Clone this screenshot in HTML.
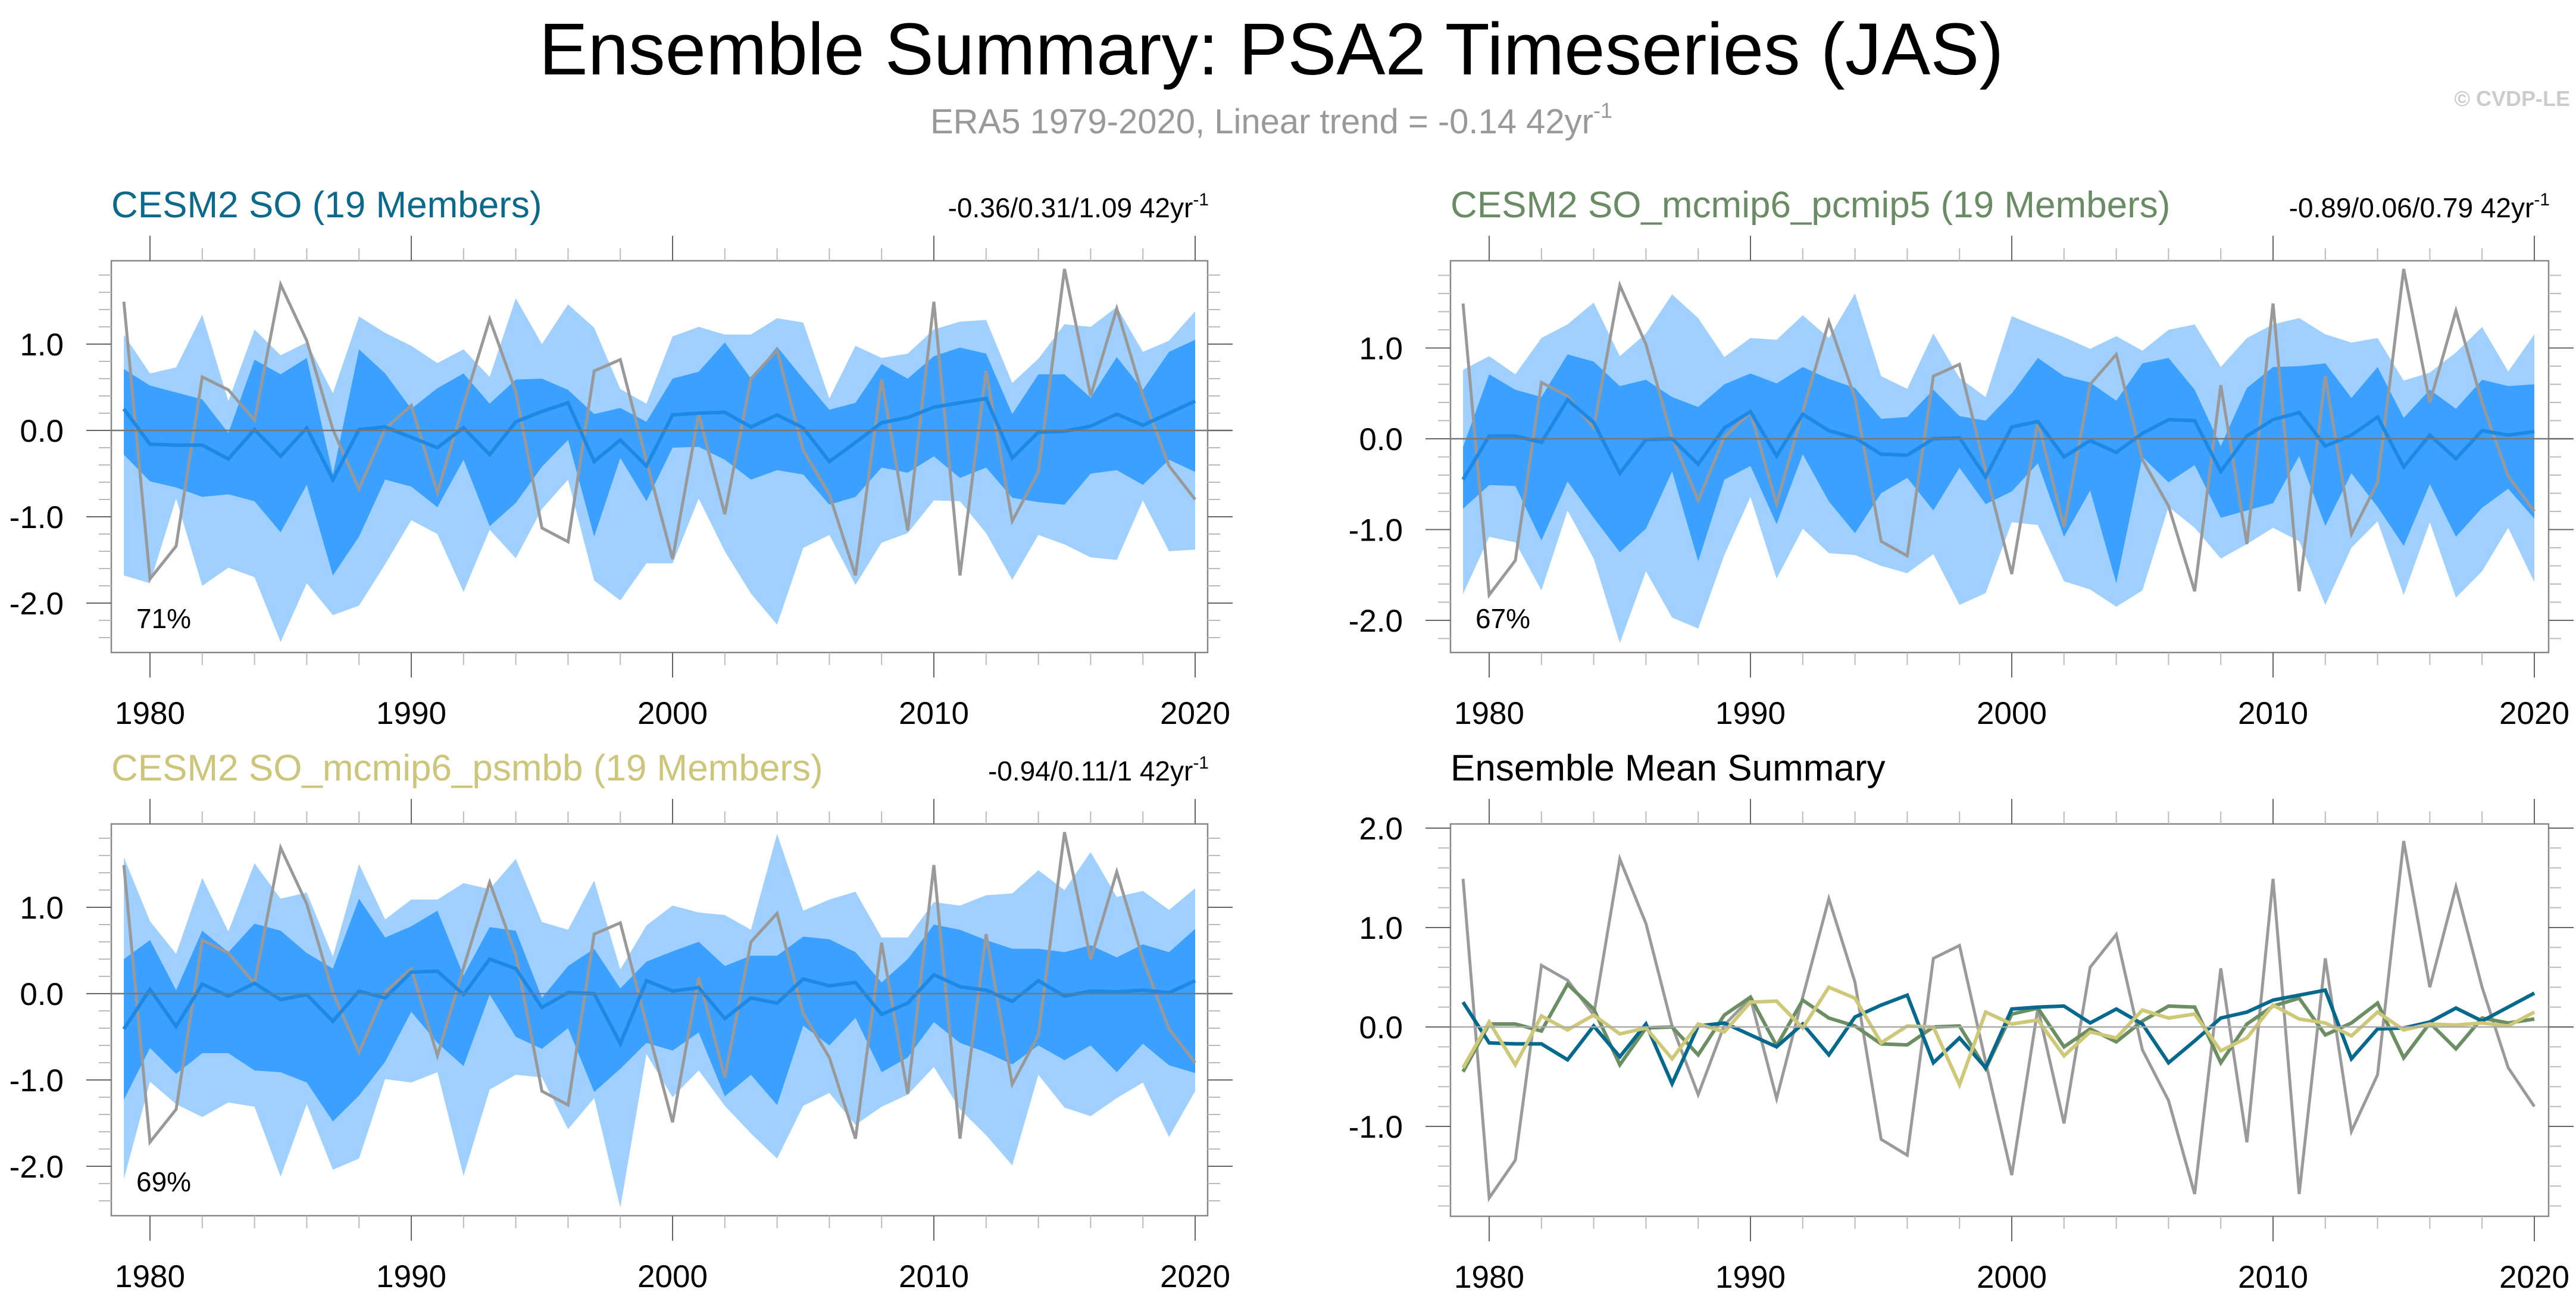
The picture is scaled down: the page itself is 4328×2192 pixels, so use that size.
<!DOCTYPE html>
<html><head><meta charset="utf-8">
<style>
html,body{margin:0;padding:0;background:#fff;}
svg{display:block;font-family:"Liberation Sans",Arial,sans-serif;}
</style></head>
<body>
<svg id="chart" width="4328" height="2192" viewBox="0 0 4328 2192" xmlns="http://www.w3.org/2000/svg">
<text x="2136" y="125" font-size="123" text-anchor="middle" fill="#000">Ensemble Summary: PSA2 Timeseries (JAS)</text>
<text x="2136" y="224" font-size="58" text-anchor="middle" fill="#999">ERA5 1979-2020, Linear trend = -0.14 42yr<tspan font-size="36" dy="-26">-1</tspan></text>
<text x="4318" y="178" font-size="36" font-weight="bold" text-anchor="end" fill="#ccc">© CVDP-LE</text>
<g id="panels"></g>
</svg>
<script>
const years = [];
for (let y = 1979; y <= 2020; y++) years.push(y);

const era5 = [1.49,-1.72,-1.34,0.62,0.47,0.12,1.69,1.04,0.01,-0.68,0.02,0.29,-0.72,0.3,1.29,0.45,-1.13,-1.29,0.69,0.82,-0.35,-1.49,0.19,-0.97,0.6,0.93,-0.23,-0.74,-1.68,0.59,-1.16,1.49,-1.68,0.69,-1.05,-0.48,1.87,0.4,1.41,0.4,-0.41,-0.8];

const meanSO = [0.25,-0.16,-0.17,-0.17,-0.33,0.01,-0.3,0.03,-0.57,0.01,0.04,-0.08,-0.2,0.03,-0.28,0.1,0.22,0.32,-0.36,-0.11,-0.41,0.18,0.2,0.21,0.04,0.18,0.03,-0.36,-0.14,0.09,0.15,0.27,0.32,0.37,-0.32,-0.02,-0.01,0.05,0.19,0.06,0.2,0.34];
const meanPcmip5 = [-0.45,0.03,0.03,-0.04,0.43,0.18,-0.38,-0.01,0,-0.28,0.12,0.3,-0.19,0.27,0.09,0.01,-0.17,-0.18,0,0.01,-0.42,0.13,0.19,-0.2,-0.02,-0.15,0.06,0.21,0.2,-0.36,0.03,0.21,0.29,-0.08,0.04,0.24,-0.31,0.04,-0.22,0.09,0.04,0.08];
const meanPsmbb = [-0.41,0.05,-0.38,0.11,-0.03,0.12,-0.07,-0.01,-0.32,0.03,-0.05,0.25,0.26,-0.01,0.4,0.29,-0.16,0.01,0,-0.58,0.15,0.03,0.07,-0.29,-0.05,-0.11,0.17,0.09,0.13,-0.24,-0.11,0.22,0.08,0.04,-0.09,0.15,-0.03,0.03,0.02,0.04,0.01,0.15];

const so_lightHi = [1.11,0.66,0.73,1.34,0.34,1.17,0.87,1.02,0.43,1.32,1.13,0.98,0.78,0.94,0.62,1.53,1.0,1.46,1.19,0.48,0.31,1.09,1.2,1.11,1.11,1.3,1.25,0.37,0.98,0.84,0.89,1.17,1.26,1.28,0.55,0.83,1.23,1.2,1.43,0.91,1.04,1.38];
const so_lightLo = [-1.68,-1.77,-0.79,-1.8,-1.59,-1.7,-2.45,-1.77,-2.14,-2.03,-1.55,-1.04,-1.2,-1.87,-1.15,-1.48,-0.91,-0.57,-1.74,-1.97,-1.54,-1.54,-0.79,-1.4,-1.89,-2.25,-1.36,-1.21,-1.79,-1.3,-1.19,-0.81,-0.82,-1.19,-1.73,-1.21,-1.32,-1.47,-1.5,-0.81,-1.4,-1.38];
const so_darkHi = [0.71,0.52,0.44,0.36,-0.03,0.82,0.65,0.84,-0.51,0.94,0.66,0.25,0.49,0.66,0.31,0.59,0.6,0.47,0.19,0.26,0.1,0.6,0.68,1.02,0.6,0.97,0.6,0.24,0.32,0.77,0.6,0.86,0.96,0.89,0.19,0.65,0.65,0.38,0.85,0.47,0.91,1.05];
const so_darkLo = [-0.28,-0.59,-0.66,-0.77,-0.74,-0.82,-1.18,-0.63,-1.68,-1.23,-0.57,-0.65,-0.89,-0.34,-1.11,-0.84,-0.42,-0.11,-1.23,-0.32,-0.82,-0.2,-0.19,-0.34,-0.57,-0.46,-0.51,-0.86,-0.77,-0.43,-0.49,-0.3,-0.55,-0.43,-0.78,-0.83,-0.86,-0.5,-0.46,-0.63,-0.34,-0.48];

const p5_lightHi = [0.76,0.91,0.71,1.11,1.26,1.5,0.91,1.16,1.59,1.33,0.9,1.11,1.09,1.36,1.11,1.6,0.69,0.55,1.16,0.67,0.46,1.35,1.23,1.12,0.99,1.13,0.97,1.2,1.26,0.79,1.11,1.26,1.33,1.15,1.06,1.11,0.64,0.73,0.95,1.23,0.74,1.15];
const p5_lightLo = [-1.71,-1.08,-1.14,-1.67,-0.79,-1.32,-2.25,-1.46,-1.97,-2.09,-1.28,-0.64,-1.54,-0.99,-1.26,-1.28,-1.4,-1.48,-1.27,-1.83,-1.7,-0.92,-0.95,-1.57,-1.66,-1.85,-1.67,-0.75,-0.98,-1.32,-1.16,-0.98,-1.13,-1.83,-1.2,-0.91,-1.72,-0.92,-1.75,-1.46,-0.98,-1.58];
const p5_darkHi = [-0.09,0.71,0.54,0.46,0.93,0.85,0.58,0.65,0.46,0.35,0.6,0.72,0.61,0.79,0.66,0.56,0.22,0.24,0.54,0.25,0.2,0.5,0.89,0.69,0.62,0.42,0.83,0.89,0.54,-0.08,0.56,0.79,0.8,0.83,0.45,0.79,0.23,0.54,0.33,0.65,0.58,0.6];
const p5_darkLo = [-0.77,-0.51,-0.52,-1.12,-0.47,-0.87,-1.25,-0.99,-0.36,-1.35,-0.45,-0.3,-0.94,-0.17,-0.69,-1.04,-0.6,-0.43,-0.79,-0.32,-0.72,-0.58,-0.27,-1.08,-0.57,-1.59,-0.2,-0.48,-0.29,-0.87,-0.79,-0.71,-0.19,-0.96,-0.38,-0.75,-1.18,-0.5,-1.08,-0.76,-0.55,-0.88];

const pb_lightHi = [1.58,0.84,0.46,1.34,0.72,1.51,1.1,1.17,0.43,1.5,0.86,1.09,1.09,1.28,1.21,1.56,0.83,0.74,1.31,0.28,0.79,1.02,0.94,0.91,0.74,1.85,0.96,1.09,1.18,0.65,0.65,1.06,1.02,1.14,1.16,1.43,1.2,1.64,1.12,1.19,0.97,1.22];
const pb_lightLo = [-2.15,-1.02,-1.28,-1.43,-1.26,-1.31,-2.12,-1.28,-2.04,-1.91,-0.99,-1.03,-0.91,-2.11,-1.11,-0.94,-0.97,-1.57,-1.21,-2.48,-0.7,-1.2,-0.89,-1.3,-1.62,-1.91,-1.3,-1.15,-1.52,-1.31,-1.17,-0.85,-1.34,-1.64,-1.99,-0.94,-1.32,-1.42,-1.21,-1.03,-1.66,-1.13];
const pb_darkHi = [0.4,0.62,0.04,0.73,0.48,0.81,0.73,0.47,0.29,1.1,0.65,0.78,0.96,0.21,0.77,0.73,-0.05,0.32,0.52,0.06,0.37,0.49,0.6,0.32,0.44,0.44,0.66,0.63,0.48,0.13,0.4,0.8,0.74,0.62,0.52,0.52,0.48,0.56,0.42,0.57,0.48,0.75];
const pb_darkLo = [-1.23,-0.63,-0.93,-0.69,-0.69,-0.89,-0.91,-1.03,-1.48,-1.18,-0.79,-0.21,-0.57,-0.84,-0.01,-0.5,-0.64,-0.4,-1.14,-0.87,-0.57,-0.66,-0.45,-1.19,-0.94,-1.29,-0.37,-0.6,-0.28,-0.91,-0.74,-0.33,-0.57,-0.68,-0.82,-0.6,-0.77,-0.6,-0.91,-0.58,-0.83,-0.92];

const xTickLabels = ["1980","1990","2000","2010","2020"];
const yTickLabelsBand = ["1.0","0.0","-1.0","-2.0"];
const yTickLabelsMean = ["2.0","1.0","0.0","-1.0"];

const NS = "http://www.w3.org/2000/svg";
const root = document.getElementById("panels");
function mk(tag, attrs, parent) {
  const e = document.createElementNS(NS, tag);
  for (const k in attrs) e.setAttribute(k, attrs[k]);
  (parent || root).appendChild(e);
  return e;
}

function drawPanel(cfg) {
  const g = mk("g", {});
  
  
  const L = cfg.left, R = cfg.right, T = cfg.top, B = cfg.bottom;
  const xs = (yr) => cfg.x1980 + (yr - 1980) * (cfg.x2020 - cfg.x1980) / 40;
  const ys = (v) => cfg.y0 - v * cfg.unit;

  const clip = mk("clipPath", {id: "clip-" + cfg.name}, g);
  mk("rect", {x: L, y: T, width: R - L, height: B - T}, clip);
  const plot = mk("g", {"clip-path": "url(#clip-" + cfg.name + ")"}, g);

  function band(hi, lo, color, nm) {
    let d = "";
    hi.forEach((v, i) => { d += (i ? "L" : "M") + xs(years[i]).toFixed(1) + "," + ys(v).toFixed(1); });
    for (let i = lo.length - 1; i >= 0; i--) d += "L" + xs(years[i]).toFixed(1) + "," + ys(lo[i]).toFixed(1);
    const p = mk("path", {d: d + "Z", fill: color}, plot);
    
    
  }
  function line(vals, color, w, nm) {
    const pts = vals.map((v, i) => xs(years[i]).toFixed(1) + "," + ys(v).toFixed(1)).join(" ");
    const p = mk("polyline", {points: pts, fill: "none", stroke: color, "stroke-width": w, "stroke-linejoin": "miter"}, plot);
    
    
  }
  if (cfg.bands) {
    band(cfg.bands[0], cfg.bands[1], "#a0d0ff", "band-10-90");
    band(cfg.bands[2], cfg.bands[3], "#3ba0ff", "band-25-75");
  }
  const zl = mk("line", {x1: L, x2: R + 40, y1: ys(0), y2: ys(0), stroke: cfg.bands ? "#777" : "#aaa", "stroke-width": 2.5}, g);
  
  
  if (cfg.bands) {
    line(era5, "#999", 5, "era5-line");
    line(cfg.mean, "#1e88e5", 6, "ensemble-mean-line");
  } else {
    line(era5, "#9a9a9a", 5, "era5-line");
    line(meanPcmip5, "#6b8f62", 6, "mean-pcmip5-line");
    line(meanSO, "#05698d", 6, "mean-so-line");
    line(meanPsmbb, "#cec879", 6, "mean-psmbb-line");
  }

  const frame = mk("rect", {x: L, y: T, width: R - L, height: B - T, fill: "none", stroke: "#888", "stroke-width": 2.5}, g);
  
  

  for (let yr = 1980; yr <= 2020; yr += 2) {
    const major = yr % 10 === 0;
    const x = xs(yr);
    const len = major ? 42 : 21;
    mk("line", {x1: x, x2: x, y1: T, y2: T - len, stroke: major ? "#666" : "#bbb", "stroke-width": 2}, g);
    mk("line", {x1: x, x2: x, y1: B, y2: B + len, stroke: major ? "#666" : "#bbb", "stroke-width": 2}, g);
  }
  xTickLabels.forEach((lab) => {
    const t = mk("text", {x: xs(+lab), y: B + 120, "font-size": 53, "text-anchor": "middle", fill: "#000"}, g);
    t.textContent = lab;
    
    
  });
  for (let k = Math.ceil(cfg.vmin * 5); k <= Math.floor(cfg.vmax * 5); k++) {
    const v = k / 5, y = ys(v);
    const major = k % 5 === 0;
    const len = major ? 42 : 21;
    mk("line", {x1: L, x2: L - len, y1: y, y2: y, stroke: major ? "#666" : "#bbb", "stroke-width": 2}, g);
    mk("line", {x1: R, x2: R + len, y1: y, y2: y, stroke: major ? "#666" : "#bbb", "stroke-width": 2}, g);
  }
  cfg.yLabels.forEach((lab) => {
    const t = mk("text", {x: L - 80, y: ys(+lab) + 19, "font-size": 53, "text-anchor": "end", fill: "#000"}, g);
    t.textContent = lab;
    
    
  });
  const tt = mk("text", {x: L, y: T - 73, "font-size": 62, fill: cfg.titleColor}, g);
  tt.textContent = cfg.title;
  
  
  if (cfg.trend) {
    const tr = mk("text", {x: R + 2, y: T - 73, "font-size": 46, "text-anchor": "end", fill: "#000"}, g);
    tr.textContent = cfg.trend;
    const sup = mk("tspan", {"font-size": 30, dy: -20}, tr);
    sup.textContent = "-1";
    
    
  }
  if (cfg.pct) {
    const pt = mk("text", {x: L + 42, y: cfg.pctY, "font-size": 46, fill: "#000"}, g);
    pt.textContent = cfg.pct;
    
    
  }
}

drawPanel({name: "panel-cesm2-so", left: 187, right: 2029, top: 438, bottom: 1096, x1980: 252, x2020: 2008,
  y0: 723, unit: 145, vmin: -2.57, vmax: 1.97, yLabels: yTickLabelsBand,
  bands: [so_lightHi, so_lightLo, so_darkHi, so_darkLo], mean: meanSO,
  title: "CESM2 SO (19 Members)", titleColor: "#0b6a8c", trend: "-0.36/0.31/1.09 42yr", pct: "71%", pctY: 1055});
drawPanel({name: "panel-cesm2-pcmip5", left: 2437, right: 4282, top: 438, bottom: 1096, x1980: 2502, x2020: 4258,
  y0: 737, unit: 152.5, vmin: -2.34, vmax: 1.97, yLabels: yTickLabelsBand,
  bands: [p5_lightHi, p5_lightLo, p5_darkHi, p5_darkLo], mean: meanPcmip5,
  title: "CESM2 SO_mcmip6_pcmip5 (19 Members)", titleColor: "#6a8c64", trend: "-0.89/0.06/0.79 42yr", pct: "67%", pctY: 1055});
drawPanel({name: "panel-cesm2-psmbb", left: 187, right: 2029, top: 1384, bottom: 2042, x1980: 252, x2020: 2008,
  y0: 1669, unit: 145, vmin: -2.57, vmax: 1.97, yLabels: yTickLabelsBand,
  bands: [pb_lightHi, pb_lightLo, pb_darkHi, pb_darkLo], mean: meanPsmbb,
  title: "CESM2 SO_mcmip6_psmbb (19 Members)", titleColor: "#cdc57a", trend: "-0.94/0.11/1 42yr", pct: "69%", pctY: 2001});
drawPanel({name: "panel-ensemble-mean", left: 2437, right: 4282, top: 1384, bottom: 2043, x1980: 2502, x2020: 4258,
  y0: 1725, unit: 167, vmin: -1.90, vmax: 2.04, yLabels: yTickLabelsMean,
  bands: null, mean: null, title: "Ensemble Mean Summary", titleColor: "#000", trend: null, pct: null});
</script>
</body></html>
